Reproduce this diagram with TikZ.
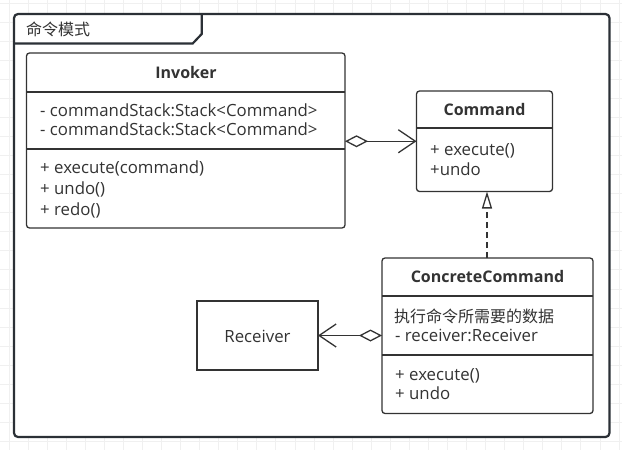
\documentclass[tikz,border=0pt]{standalone}
\usepackage{fontspec}
\setmainfont{Open Sans}
\newfontfamily\cjk{Noto Sans CJK SC}
\usetikzlibrary{arrows.meta}
\definecolor{ln}{HTML}{333333}
\definecolor{fr}{HTML}{2B3036}
\definecolor{gridc}{HTML}{F0F0F0}
\definecolor{tx}{HTML}{333333}
\begin{document}
\begin{tikzpicture}[x=1pt,y=-1pt,
  classbox/.style={draw=ln, line width=1.3pt, rounded corners=3pt, fill=white, inner sep=0pt, outer sep=0pt, anchor=north west},
  plainbox/.style={draw=ln, line width=1.3pt, fill=white, inner sep=0pt, outer sep=0pt, anchor=north west},
  divider/.style={draw=ln, line width=1.3pt},
  txt/.style={anchor=base west, inner sep=0pt, text=tx, font=\fontsize{16.8}{19}\selectfont},
  hdr/.style={anchor=base, inner sep=0pt, text=tx, font=\fontsize{16}{19}\selectfont\bfseries},
  conn/.style={draw=ln, line width=1.3pt},
  aggr/.style={conn, {Diamond[open,length=23pt,width=12pt,line width=1.3pt]}-{Straight Barb[length=17pt,width=23pt,line width=1.3pt]}},
  realize/.style={conn, dash pattern=on 6pt off 4pt, -{Triangle[open,length=17pt,width=10pt,line width=1.3pt]}}
]
\useasboundingbox (0,0) rectangle (622,450);
\fill[white] (0,0) rectangle (622,450);
% background grid
\foreach \i in {0,...,32} \draw[gridc, line width=0.7pt] ({9+19.06*\i},0) -- ({9+19.06*\i},450);
\foreach \j in {0,...,23} \draw[gridc, line width=0.7pt] (0,{3+19.06*\j}) -- (622,{3+19.06*\j});
% frame
\node[draw=fr, line width=2.2pt, rounded corners=4pt, fill=white, inner sep=0pt, outer sep=0pt,
      minimum width=595.5pt, minimum height=423pt, anchor=north west] (frame) at (14,14) {};
\coordinate (tabA) at (14,43.5);
\coordinate (tabB) at (192.7,43.5);
\coordinate (tabC) at (201.7,34);
\coordinate (tabD) at (201.7,14);
\draw[fr, line width=2.2pt] (tabA) -- (tabB) -- (tabC) -- (tabD);
\node[anchor=base west, inner sep=0pt, text=tx, font=\cjk\fontsize{16}{19}\selectfont] (title) at (26,35.5) {命令模式};

% Invoker
\node[classbox, minimum width=318.5pt, minimum height=175pt] (inv) at (26.5,53) {};
\draw[divider] (inv.west |- 0,92) -- (inv.east |- 0,92);
\draw[divider] (inv.west |- 0,149) -- (inv.east |- 0,149);
\node[hdr] (invt) at (186,78.3) {Invoker};
\node[txt] (inva1) at (40,116.7) {- commandStack:Stack<Command>};
\node[txt] (inva2) at (40,135.7) {- commandStack:Stack<Command>};
\node[txt] (invm1) at (40,173) {+ execute(command)};
\node[txt] (invm2) at (40,194) {+ undo()};
\node[txt] (invm3) at (40,215) {+ redo()};

% Command
\node[classbox, minimum width=136pt, minimum height=100.5pt] (cmd) at (416.5,91) {};
\draw[divider] (cmd.west |- 0,128) -- (cmd.east |- 0,128);
\node[hdr] (cmdt) at (484.5,115.7) {Command};
\node[txt] (cmdm1) at (430,155) {+ execute()};
\node[txt] (cmdm2) at (430,175) {+undo};

% ConcreteCommand
\node[classbox, minimum width=211pt, minimum height=155.5pt] (cc) at (382,258) {};
\draw[divider] (cc.west |- 0,296) -- (cc.east |- 0,296);
\draw[divider] (cc.west |- 0,355) -- (cc.east |- 0,355);
\node[hdr] (cct) at (487.5,282.7) {ConcreteCommand};
\node[txt, font=\cjk\fontsize{16}{19}\selectfont] (cca1) at (394,322) {执行命令所需要的数据};
\node[txt] (cca2) at (395,341.7) {- receiver:Receiver};
\node[txt] (ccm1) at (395,380) {+ execute()};
\node[txt] (ccm2) at (395,399) {+ undo};

% Receiver
\node[plainbox, minimum width=121pt, minimum height=69pt] (rec) at (197,301) {};
\node[anchor=base, inner sep=0pt, text=tx, font=\fontsize{16.8}{19}\selectfont] (rect) at (257.5,342.3) {Receiver};

% connectors
\draw[aggr] (cmd.west -| inv.east) -- (cmd.west);
\draw[aggr] (cc.west |- rec.east) -- (rec.east);
\draw[realize] (cc.north -| 487,0) -- (cmd.south -| 487,0);
\end{tikzpicture}
\end{document}
